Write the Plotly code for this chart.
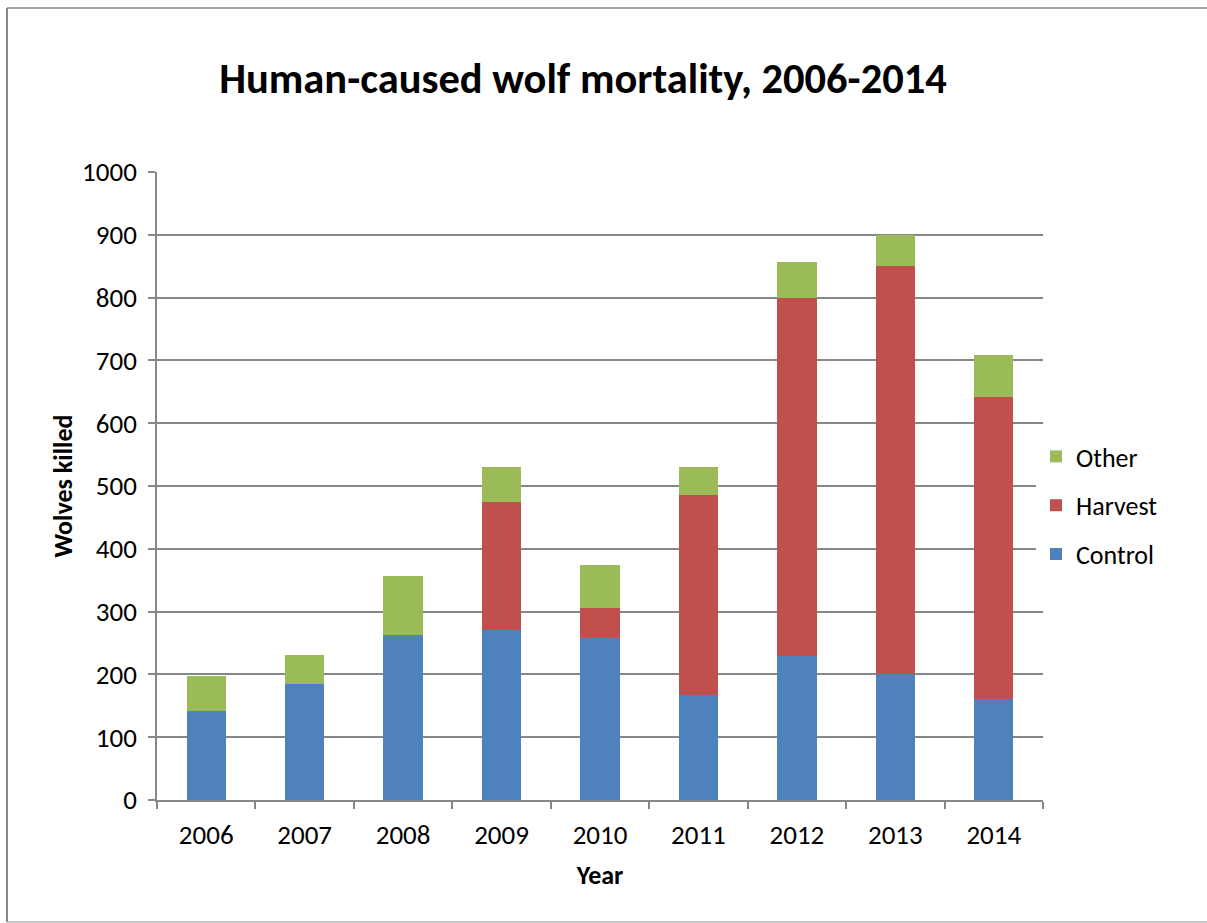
import plotly.graph_objects as go

years = ["2006", "2007", "2008", "2009", "2010", "2011", "2012", "2013", "2014"]
control = [141, 184, 263, 271, 258, 167, 230, 201, 161]
harvest = [0, 0, 0, 204, 47, 319, 570, 650, 480]
other = [56, 47, 93, 56, 70, 45, 57, 48, 68]

FONT = "Carlito, Calibri, Lato, sans-serif"
GRID = "#878787"

W, H = 1207, 923
L, R, T, B = 157, 164, 172, 123
pw, ph = W - L - R, H - T - B


def px_x(p):
    return (p - L) / pw


def px_y(p):
    return (H - B - p) / ph


fig = go.Figure()
# stacked bottom-to-top; legend lists the top segment first
for name, vals, color, rank in [("Control", control, "#4F81BD", 3),
                                ("Harvest", harvest, "#C0504D", 2),
                                ("Other", other, "#9BBB59", 1)]:
    fig.add_trace(go.Bar(
        x=years, y=vals, name=name, legendgroup=name, legendrank=rank,
        marker=dict(color=color, line=dict(width=0)),
    ))

fig.update_layout(
    width=W, height=H,
    margin=dict(l=L, r=R, t=T, b=B),
    barmode="stack", bargap=0.6,
    plot_bgcolor="white", paper_bgcolor="white",
    font=dict(family=FONT, size=27, color="black"),
    title=dict(text="<b>Human-caused wolf mortality, 2006-2014</b>",
               x=px_x(583), xref="paper", xanchor="center",
               y=1 - 78 / H, yanchor="middle",
               font=dict(family=FONT, size=42.5, color="black")),
    legend=dict(x=px_x(1036), y=px_y(433), xanchor="left", yanchor="top",
                traceorder="grouped", tracegroupgap=12,
                font=dict(family=FONT, size=26), itemwidth=30),
    showlegend=True,
    xaxis=dict(showline=True, linecolor=GRID, linewidth=1.5,
               ticks="outside", tickson="boundaries", ticklen=7, tickcolor=GRID, tickwidth=1.5,
               ticklabelstandoff=10,
               title=dict(text="<b>Year</b>", font=dict(family=FONT, size=26), standoff=16),
               tickfont=dict(family=FONT, size=27)),
    yaxis=dict(range=[0, 1000], dtick=100, showgrid=True, gridcolor=GRID, gridwidth=1.5,
               showline=True, linecolor=GRID, linewidth=1.5,
               ticks="outside", ticklen=7, tickcolor=GRID, tickwidth=1.5,
               ticklabelstandoff=6,
               title=dict(text="<b>Wolves killed</b>", font=dict(family=FONT, size=26), standoff=2),
               tickfont=dict(family=FONT, size=27), zeroline=False),
    shapes=[
        dict(type="line", xref="paper", yref="paper",
             x0=px_x(7), x1=px_x(7), y0=px_y(922), y1=px_y(8),
             line=dict(color=GRID, width=2), layer="below"),
        dict(type="line", xref="paper", yref="paper",
             x0=px_x(7), x1=px_x(1207), y0=px_y(8), y1=px_y(8),
             line=dict(color=GRID, width=1.5), layer="below"),
        dict(type="line", xref="paper", yref="paper",
             x0=px_x(7), x1=px_x(1207), y0=px_y(922), y1=px_y(922),
             line=dict(color="#b4b4b4", width=1.5), layer="below"),
    ],
)

fig.write_html("out.html")
